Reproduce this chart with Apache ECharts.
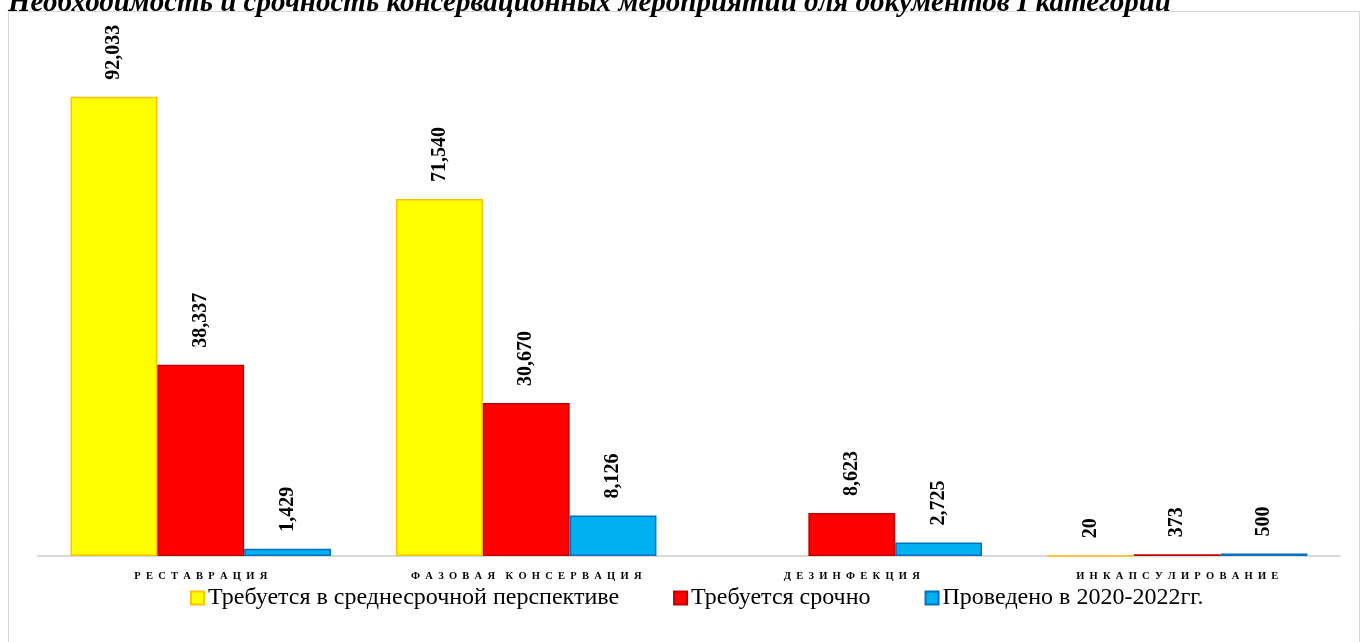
<!DOCTYPE html>
<html>
<head>
<meta charset="utf-8">
<script src="https://cdn.jsdelivr.net/npm/echarts@6/dist/echarts.min.js"></script>
<style>
	html, body { margin: 0; padding: 0; background: #fff; }
	#chart { width: 1362px; height: 642px; }
</style>
</head>
<body>
<div id="chart"></div>
<script>
	var titleText = 'Необходимость и срочность консервационных мероприятий для документов I категории';
	var categories = [ 'РЕСТАВРАЦИЯ', 'ФАЗОВАЯ КОНСЕРВАЦИЯ', 'ДЕЗИНФЕКЦИЯ', 'ИНКАПСУЛИРОВАНИЕ' ];
	var seriesNames = [ 'Требуется в среднесрочной перспективе', 'Требуется срочно', 'Проведено в 2020-2022гг.' ];
	var midTermValues = [ 92033, 71540, null, 20 ];
	var urgentValues = [ 38337, 30670, 8623, 373 ];
	var doneValues = [ 1429, 8126, 2725, 500 ];

	var serif = '"Liberation Serif", "Times New Roman", serif';

	// цвета заливки и рамки для каждого ряда
	var fills = [ '#FFFF00', '#FF0000', '#00B0F0' ];
	var borders = [ '#FFC000', '#C00000', '#0070C0' ];

	function makeSeries(name, values, idx) {
		return {
			name : name,
			type : 'bar',
			barGap : '0%',
			barCategoryGap : '20%',
			data : values,
			itemStyle : {
				color : fills[idx],
				borderColor : borders[idx],
				borderWidth : 1.5
			},
			label : {
				show : true,
				position : 'top',
				rotate : 90,
				align : 'left',
				verticalAlign : 'middle',
				distance : 17,
				fontFamily : serif,
				fontWeight : 'bold',
				fontSize : 20,
				color : '#000',
				formatter : function(p) {
					if (p.value == null) return '';
					return p.value.toLocaleString('en-US');
				}
			}
		};
	}

	var myChart = echarts.init(document.getElementById('chart'));

	var option = {
		animation : false,
		title : {
			text : titleText,
			left : 3,
			top : -16,
			textStyle : {
				fontFamily : serif,
				fontStyle : 'italic',
				fontWeight : 'bold',
				fontSize : 29,
				color : '#000'
			}
		},
		graphic : [ {
			type : 'rect',
			shape : { x : 8.5, y : 11.5, width : 1351, height : 640 },
			style : { fill : 'none', stroke : '#d9d9d9', lineWidth : 1 },
			z : -1
		} ],
		legend : {
			data : seriesNames,
			left : 185,
			top : 581,
			icon : 'rect',
			itemWidth : 13,
			itemHeight : 13,
			itemGap : 54,
			textStyle : {
				fontFamily : serif,
				fontSize : 24,
				color : '#000',
				padding : [ 0, 0, 0, -1 ]
			}
		},
		grid : {
			left : 38,
			right : 22,
			top : 57,
			bottom : 86
		},
		xAxis : {
			type : 'category',
			data : categories,
			axisLine : { lineStyle : { color : '#d9d9d9', width : 2 } },
			axisTick : { show : false },
			axisLabel : {
				margin : 15,
				fontFamily : serif,
				fontWeight : 'bold',
				fontSize : 10.5,
				color : '#000',
				formatter : function(v) {
					// разрядка букв, как в оригинале
					return v.split(' ').map(function(w) {
						return w.split('').join('\u2002');
					}).join('\u2003');
				}
			}
		},
		yAxis : {
			type : 'value',
			min : 0,
			max : 100000,
			show : false,
			splitLine : { show : false }
		},
		series : [
			makeSeries(seriesNames[0], midTermValues, 0),
			makeSeries(seriesNames[1], urgentValues, 1),
			makeSeries(seriesNames[2], doneValues, 2)
		]
	};

	myChart.setOption(option);
</script>
</body>
</html>
